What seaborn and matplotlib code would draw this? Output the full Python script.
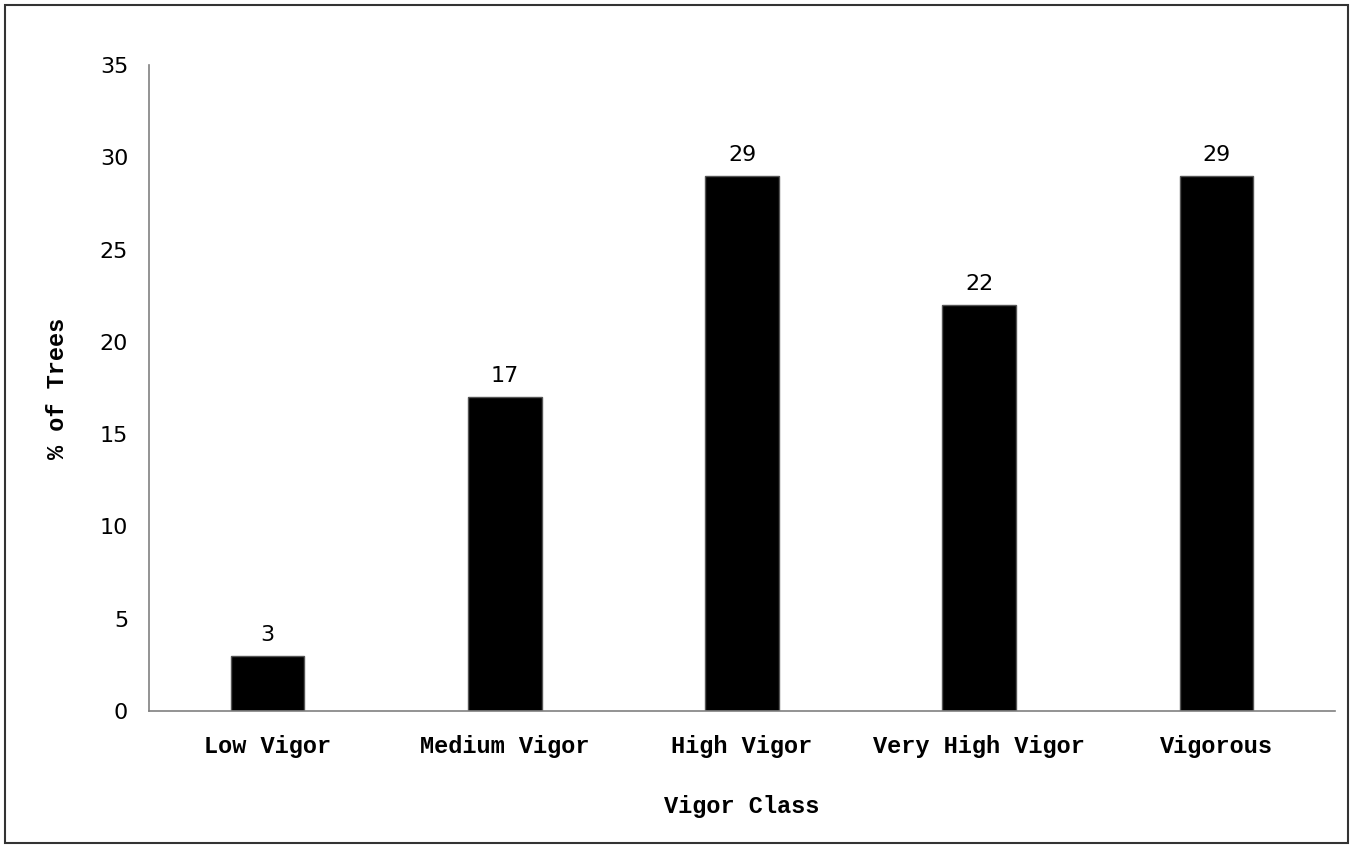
import numpy as np
import pandas as pd
import matplotlib
matplotlib.use("Agg")
import matplotlib.pyplot as plt
import seaborn as sns

# ==========================================
# Data
# ==========================================

classes = ["Low Vigor", "Medium Vigor", "High Vigor", "Very High Vigor", "Vigorous"]
pct_trees = [3, 17, 29, 22, 29]
y_ticks = [0, 5, 10, 15, 20, 25, 30, 35]

df = pd.DataFrame({"Vigor Class": classes, "% of Trees": pct_trees})

# ==========================================
# Plot
# ==========================================

sns.set_style("white")
plt.rcParams["text.color"] = "black"
plt.rcParams["axes.labelcolor"] = "black"
mono = ["Liberation Mono", "DejaVu Sans Mono"]

fig = plt.figure(figsize=(13.52, 8.48), dpi=100)
ax = fig.add_axes([149 / 1352, 1 - 711 / 848, (1335 - 149) / 1352, (711 - 65) / 848])

sns.barplot(
    data=df,
    x="Vigor Class",
    y="% of Trees",
    color="black",
    width=0.31,
    edgecolor="#555555",
    linewidth=1,
    ax=ax,
)

for c in ax.containers:
    ax.bar_label(c, padding=8, fontsize=16, color="black")

ax.set_ylim(0, 35)
ax.set_xlim(-0.5, len(classes) - 0.5)
ax.set_yticks(y_ticks)
ax.tick_params(axis="y", labelsize=16, length=0, pad=15, labelcolor="black")
ax.tick_params(axis="x", length=0, pad=17, labelcolor="black")
for lbl in ax.get_xticklabels():
    lbl.set_fontfamily(mono)
    lbl.set_fontweight("bold")
    lbl.set_fontsize(17)

ax.set_xlabel("Vigor Class", fontfamily=mono, fontweight="bold", fontsize=17, labelpad=27)
ax.set_ylabel("% of Trees", fontfamily=mono, fontweight="bold", fontsize=17, labelpad=22)

for side in ["top", "right"]:
    ax.spines[side].set_visible(False)
for side in ["left", "bottom"]:
    ax.spines[side].set_color("#808080")
    ax.spines[side].set_linewidth(1.2)

# outer frame around the figure
fig.add_artist(plt.Rectangle((5 / 1352, 5 / 848), 1343 / 1352, 838 / 848,
                             transform=fig.transFigure, fill=False,
                             edgecolor="#333333", linewidth=1.5))

fig.savefig("out.png", dpi=100)
